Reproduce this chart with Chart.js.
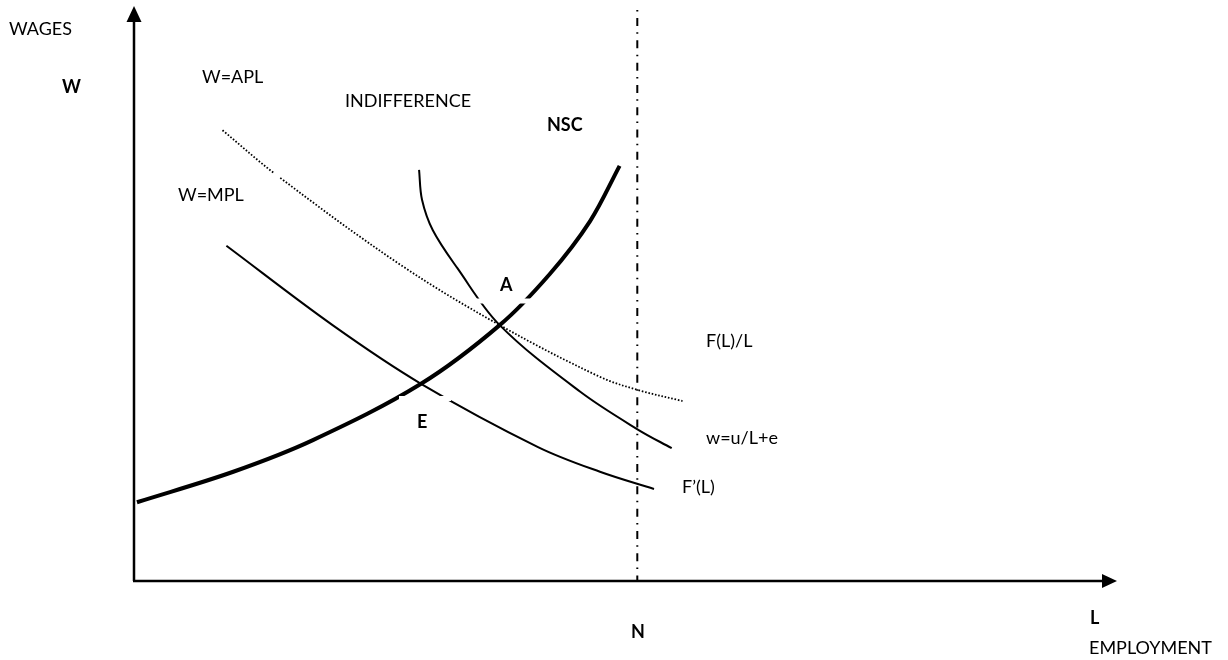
<!DOCTYPE html>
<html><head><meta charset="utf-8">
<script src="https://cdn.jsdelivr.net/npm/chart.js@4.4.0/dist/chart.umd.min.js"></script>
<style>html,body{margin:0;padding:0;background:#fff;overflow:hidden}#wrap{width:1228px;height:660px}</style>
</head><body><div id="wrap"><canvas id="c" width="1228" height="660"></canvas></div>
<script>
// Employment (L) on x, wages (W) on y — arbitrary units 0..100
const nscL = [0.3, 10.1, 18.2, 29.2, 37.2, 42.3, 46.4, 49.4];
const nscW = [13.7, 19.0, 24.5, 34.3, 44.5, 53.4, 62.6, 72.2];

const indL = [29.0, 29.3, 30.4, 32.9, 37.2, 45.4, 51.3, 54.7];
const indW = [71.5, 66.3, 61.0, 54.4, 44.5, 32.9, 26.3, 23.1];

const aplL = [9.0, 14.5, 27.1, 37.2, 47.4, 51.3, 55.8];
const aplW = [78.4, 70.6, 55.0, 44.5, 35.5, 33.2, 31.3];

const mplL = [9.4, 20.2, 29.2, 41.1, 47.4, 52.9];
const mplW = [58.3, 44.5, 34.3, 23.3, 19.0, 16.0];

const fullEmpL = [51.2, 51.2];
const fullEmpW = [99.3, 0];

const axisLabels = ['WAGES', 'W', 'L', 'N', 'EMPLOYMENT'];
const curveLabels = ['W=APL', 'INDIFFERENCE', 'NSC', 'W=MPL', 'A', 'F(L)/L', 'E', 'w=u/L+e', 'F\u2019(L)'];

const pts = (xs, ys) => xs.map((x, i) => ({x: x, y: ys[i]}));

const FONT = 'Lato, "Liberation Sans", sans-serif';

const decor = {
  id: 'decor',
  afterDatasetsDraw(chart) {
    const ctx = chart.ctx;
    const a = chart.chartArea;
    ctx.save();
    // white gaps left by label boxes
    ctx.strokeStyle = '#fff';
    ctx.lineWidth = 5;
    ctx.beginPath();
    ctx.moveTo(476, 301); ctx.lineTo(533, 301);
    ctx.moveTo(399, 398.5); ctx.lineTo(451, 398.5);
    ctx.moveTo(273, 175.5); ctx.lineTo(280, 175.5);
    ctx.stroke();
    // axes
    ctx.strokeStyle = '#000';
    ctx.fillStyle = '#000';
    ctx.lineWidth = 2.5;
    ctx.beginPath();
    ctx.moveTo(a.left, a.bottom); ctx.lineTo(a.left, a.top + 14);
    ctx.moveTo(a.left - 1, a.bottom); ctx.lineTo(a.right - 12, a.bottom);
    ctx.stroke();
    ctx.beginPath();
    ctx.moveTo(a.left, a.top); ctx.lineTo(a.left - 7.5, a.top + 16); ctx.lineTo(a.left + 7.5, a.top + 16); ctx.closePath();
    ctx.fill();
    ctx.beginPath();
    ctx.moveTo(a.right, a.bottom); ctx.lineTo(a.right - 15, a.bottom - 7); ctx.lineTo(a.right - 15, a.bottom + 7); ctx.closePath();
    ctx.fill();
    // texts
    ctx.textBaseline = 'middle';
    ctx.textAlign = 'left';
    const put = (t, x, y, bold) => {
      ctx.font = (bold ? 'bold ' : '') + '18px ' + FONT;
      ctx.fillText(t, x, y);
    };
    put(axisLabels[0], 9, 29, false);
    put(axisLabels[1], 62, 87, true);
    put(axisLabels[2], 1090, 618, true);
    put(axisLabels[3], 631, 632, true);
    put(axisLabels[4], 1089, 648, false);
    put(curveLabels[0], 202, 77, false);
    put(curveLabels[1], 345, 101, false);
    put(curveLabels[2], 547, 125, true);
    put(curveLabels[3], 178, 195, false);
    put(curveLabels[4], 500, 285, true);
    put(curveLabels[5], 706, 341, false);
    put(curveLabels[6], 417, 422, true);
    put(curveLabels[7], 706, 438, false);
    put(curveLabels[8], 682, 487, false);
    ctx.restore();
  }
};

const lineDs = (label, data, extra) => Object.assign({
  label: label, data: data, showLine: true, borderColor: '#000', borderWidth: 2,
  tension: 0.35, pointRadius: 0, pointHoverRadius: 0
}, extra || {});

new Chart(document.getElementById('c'), {
  type: 'scatter',
  data: {
    datasets: [
      lineDs('NSC', pts(nscL, nscW), {borderWidth: 4}),
      lineDs('Indifference', pts(indL, indW)),
      lineDs('APL', pts(aplL, aplW), {borderWidth: 1.8, borderDash: [1.6, 1.8]}),
      lineDs('MPL', pts(mplL, mplW)),
      lineDs('N', pts(fullEmpL, fullEmpW), {tension: 0, borderDash: [1.5, 6.5, 8, 6.3]})
    ]
  },
  options: {
    responsive: false,
    animation: false,
    devicePixelRatio: 1,
    layout: {padding: {left: 134, right: 111, top: 6, bottom: 79}},
    plugins: {legend: {display: false}, tooltip: {enabled: false}},
    scales: {
      x: {type: 'linear', display: false, min: 0, max: 100},
      y: {type: 'linear', display: false, min: 0, max: 100}
    }
  },
  plugins: [decor]
});
</script>
</body></html>
